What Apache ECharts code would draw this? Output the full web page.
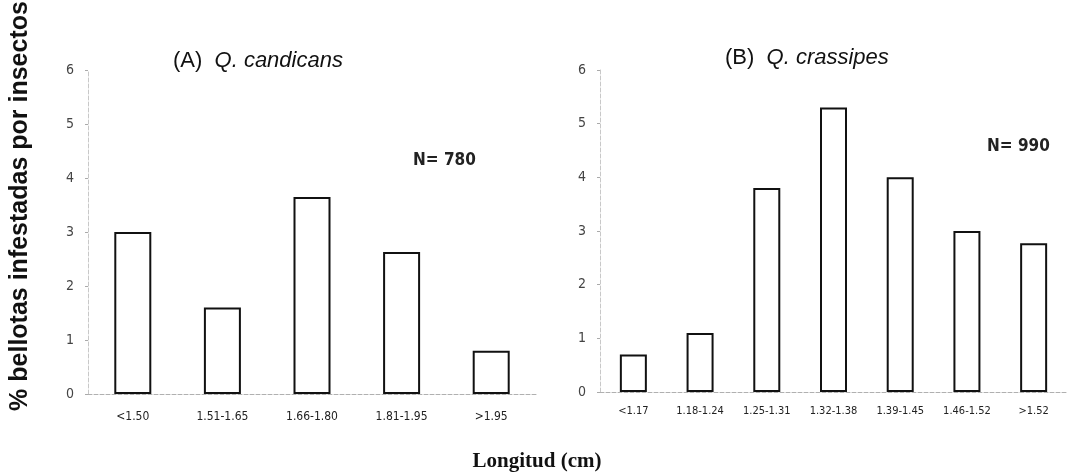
<!DOCTYPE html>
<html>
<head>
<meta charset="utf-8">
<script src="https://cdn.jsdelivr.net/npm/echarts@6/dist/echarts.min.js"></script>
<style>
  html, body { margin: 0; padding: 0; background: #fff; }
  #chart { width: 1070px; height: 474px; }
</style>
</head>
<body>
<div id="chart"></div>
<script>
// categorias de longitud (cm) y % de bellotas infestadas
var catsA = ['<1.50', '1.51-1.65', '1.66-1.80', '1.81-1.95', '>1.95'];
var valsA = [3.0, 1.6, 3.65, 2.63, 0.8];
var catsB = ['<1.17', '1.18-1.24', '1.25-1.31', '1.32-1.38', '1.39-1.45', '1.46-1.52', '>1.52'];
var valsB = [0.7, 1.1, 3.8, 5.3, 4.0, 3.0, 2.77];
var yTicks = [0, 1, 2, 3, 4, 5, 6];

var narrow = "'Liberation Sans Narrow', 'DejaVu Sans Condensed', 'Liberation Sans', sans-serif";
var sans = "'Liberation Sans', Arial, sans-serif";

var myChart = echarts.init(document.getElementById('chart'));

function yAxis(idx) {
    return {
        type: 'value',
        gridIndex: idx,
        min: yTicks[0],
        max: yTicks[yTicks.length - 1],
        interval: 1,
        splitLine: { show: false },
        axisLine: { show: true, lineStyle: { color: '#c8c8c8', type: 'dashed', width: 1 } },
        axisTick: { show: true, length: 3, lineStyle: { color: '#aaa' } },
        axisLabel: { color: '#444', fontSize: 14, fontFamily: narrow, margin: 14 }
    };
}

function xAxis(idx, cats, fs, gap) {
    return {
        type: 'category',
        gridIndex: idx,
        data: cats,
        axisLine: { show: true, lineStyle: { color: '#b0b0b0', type: 'dashed', width: 1 } },
        axisTick: { show: false },
        axisLabel: { color: '#222', fontSize: fs, fontFamily: narrow, margin: gap }
    };
}

var barStyle = { color: '#fff', borderColor: '#111', borderWidth: 2 };

var titleStyle = {
    fontSize: 22, fontWeight: 'normal', color: '#111', fontFamily: sans,
    rich: { i: { fontSize: 22, fontStyle: 'italic', color: '#111', fontFamily: sans } }
};

var option = {
    backgroundColor: '#fff',
    animation: false,
    title: [
        { text: '(A)  {i|Q. candicans}', left: 168, top: 45, textStyle: titleStyle },
        { text: '(B)  {i|Q. crassipes}', left: 720, top: 42, textStyle: titleStyle }
    ],
    grid: [
        { left: 88, top: 70, width: 448, height: 324 },
        { left: 600, top: 70, width: 467, height: 322 }
    ],
    xAxis: [
        xAxis(0, catsA, 12, 17),
        xAxis(1, catsB, 11, 14)
    ],
    yAxis: [
        yAxis(0),
        yAxis(1)
    ],
    series: [
        { type: 'bar', xAxisIndex: 0, yAxisIndex: 0, data: valsA, barWidth: 37, itemStyle: barStyle, silent: true },
        { type: 'bar', xAxisIndex: 1, yAxisIndex: 1, data: valsB, barWidth: 27, itemStyle: barStyle, silent: true }
    ],
    graphic: [
        {
            type: 'text', x: 20, y: 206, rotation: Math.PI / 2,
            style: { text: '% bellotas infestadas por insectos', fontSize: 25, fontWeight: 'bold',
                     fill: '#111', fontFamily: sans, align: 'center', verticalAlign: 'middle' }
        },
        {
            type: 'text', left: 413, top: 152,
            style: { text: 'N= 780', fontSize: 17, fontWeight: 'bold', fill: '#222', fontFamily: narrow }
        },
        {
            type: 'text', left: 987, top: 138,
            style: { text: 'N= 990', fontSize: 17, fontWeight: 'bold', fill: '#222', fontFamily: narrow }
        },
        {
            type: 'text', x: 537, y: 462,
            style: { text: 'Longitud (cm)', fontSize: 21, fontWeight: 'bold', fill: '#111',
                     fontFamily: "'Liberation Serif', 'DejaVu Serif', serif",
                     align: 'center', verticalAlign: 'middle' }
        }
    ]
};

myChart.setOption(option);
</script>
</body>
</html>
